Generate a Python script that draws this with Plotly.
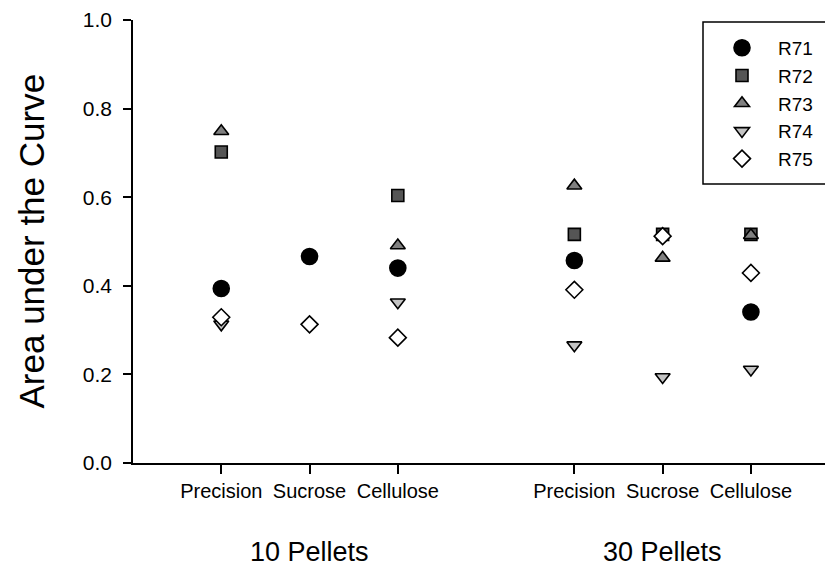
import plotly.graph_objects as go

categories = ["Precision", "Sucrose", "Cellulose", "Precision", "Sucrose", "Cellulose"]
x_positions = [1, 2, 3, 5, 6, 7]
groups = ["10 Pellets", "30 Pellets"]
group_centers = [2, 6]

R71 = [0.394, 0.466, 0.440, 0.457, None, 0.341]
R72 = [0.702, None, 0.604, 0.516, 0.516, 0.516]
R73 = [0.749, None, 0.491, 0.626, 0.463, 0.514]
R74 = [0.313, None, 0.363, 0.266, 0.194, 0.211]
R75 = [0.329, 0.313, 0.283, 0.391, 0.512, 0.429]

y_ticks = [0.0, 0.2, 0.4, 0.6, 0.8, 1.0]

series = [
    ("R71", R71, "circle", "#000000", 16),
    ("R72", R72, "square", "#555555", 12),
    ("R73", R73, "triangle-up", "#808080", 13),
    ("R74", R74, "triangle-down", "#c4c4c4", 13),
    ("R75", R75, "diamond", "#ffffff", 13),
]

FONT = "Liberation Sans, Arial, Helvetica, sans-serif"

# the page body has an 8px margin, so the figure is placed 8px in
OFF = 8
W, H = 833 - OFF, 569 - OFF
L, R, T, B = 133 - OFF, 0, 17 - OFF, 569 - 463
pw, ph = W - L - R, H - T - B

def px_x(p):
    return (p - OFF - L) / pw

def px_y(p):
    return (H - B - (p - OFF)) / ph

fig = go.Figure()
for name, vals, sym, col, sz in series:
    fig.add_trace(go.Scatter(
        x=x_positions, y=vals, mode="markers", name=name,
        legendgroup=name,
        marker=dict(symbol=sym, color=col, size=sz,
                    line=dict(color="#000000", width=1.6)),
    ))

fig.update_layout(
    width=W, height=H,
    margin=dict(l=L, r=R, t=T, b=B, pad=0),
    paper_bgcolor="white", plot_bgcolor="white",
    font=dict(family=FONT, color="black"),
    showlegend=True,
    legend=dict(
        x=px_x(706), y=px_y(26), xanchor="left", yanchor="top",
        bgcolor="rgba(0,0,0,0)", borderwidth=0,
        font=dict(size=19, family=FONT, color="black"),
        itemwidth=62, tracegroupgap=0,
    ),
    xaxis=dict(
        range=[0.0, 7.93], showgrid=False, zeroline=False,
        showline=True, linecolor="black", linewidth=1.5,
        tickmode="array", tickvals=x_positions, ticktext=categories,
        ticks="outside", ticklen=9, tickwidth=1.5, tickcolor="black",
        tickfont=dict(size=20, family=FONT, color="black"),
    ),
    yaxis=dict(
        range=[0, 1], showgrid=False, zeroline=False,
        showline=True, linecolor="black", linewidth=1.5,
        tickmode="array", tickvals=y_ticks,
        ticktext=[f"{v:.1f}" for v in y_ticks],
        ticks="outside", ticklen=8, tickwidth=1.5, tickcolor="black",
        ticklabelstandoff=7, ticklabeloverflow="allow",
        tickfont=dict(size=21, family=FONT, color="black"),
    ),
    shapes=[dict(
        type="rect", xref="paper", yref="paper",
        x0=px_x(703), x1=px_x(831), y0=px_y(182), y1=px_y(19),
        line=dict(color="black", width=1.5), fillcolor="rgba(0,0,0,0)",
    )],
)

annotations = [dict(
    text="Area under the Curve", xref="paper", yref="paper",
    x=px_x(31), y=px_y(240), xanchor="center", yanchor="middle",
    textangle=-90, showarrow=False,
    font=dict(size=35, family=FONT, color="black"),
)]
for g, c in zip(groups, group_centers):
    annotations.append(dict(
        text=g, xref="x", yref="paper", x=c, y=px_y(553),
        xanchor="center", yanchor="middle", showarrow=False,
        font=dict(size=27, family=FONT, color="black"),
    ))
fig.update_layout(annotations=annotations)

fig.write_html("out.html")
